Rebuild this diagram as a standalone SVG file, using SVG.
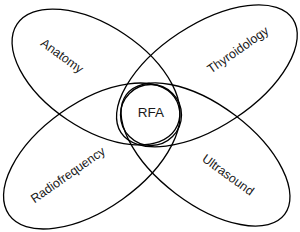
<svg xmlns="http://www.w3.org/2000/svg" width="300" height="232" viewBox="0 0 300 232">
<style>
.e{fill:none;stroke:#000;stroke-width:1.3}
.t{font-family:"Liberation Sans",Arial,sans-serif;font-size:12.5px;fill:#1a1a1a;text-anchor:middle;dominant-baseline:central}
</style>
<rect width="300" height="232" fill="#fff"/>
<g id="connectors"></g>
<g id="anatomy"><ellipse class="e" cx="0" cy="0" rx="95" ry="51.4" transform="translate(96,77) rotate(33.8)"/><text class="t" transform="translate(62,56) rotate(36)">Anatomy</text></g>
<g id="thyroidology"><ellipse class="e" cx="0" cy="0" rx="103" ry="51" transform="translate(206.9,75.8) rotate(-33.5)"/><text class="t" transform="translate(238,50) rotate(-35)">Thyroidology</text></g>
<g id="radiofrequency"><ellipse class="e" cx="0" cy="0" rx="101.5" ry="53" transform="translate(91.75,156) rotate(-35.45)"/><text class="t" transform="translate(68,175) rotate(-35)">Radiofrequency</text></g>
<g id="ultrasound"><ellipse class="e" cx="0" cy="0" rx="99.2" ry="49.1" transform="translate(205.5,154.5) rotate(37.1)"/><text class="t" transform="translate(228,175) rotate(36)">Ultrasound</text></g>
<g id="rfa"><circle class="e" cx="151" cy="115" r="30.5"/><text class="t" x="151" y="112" style="font-size:13.5px">RFA</text></g>
</svg>
